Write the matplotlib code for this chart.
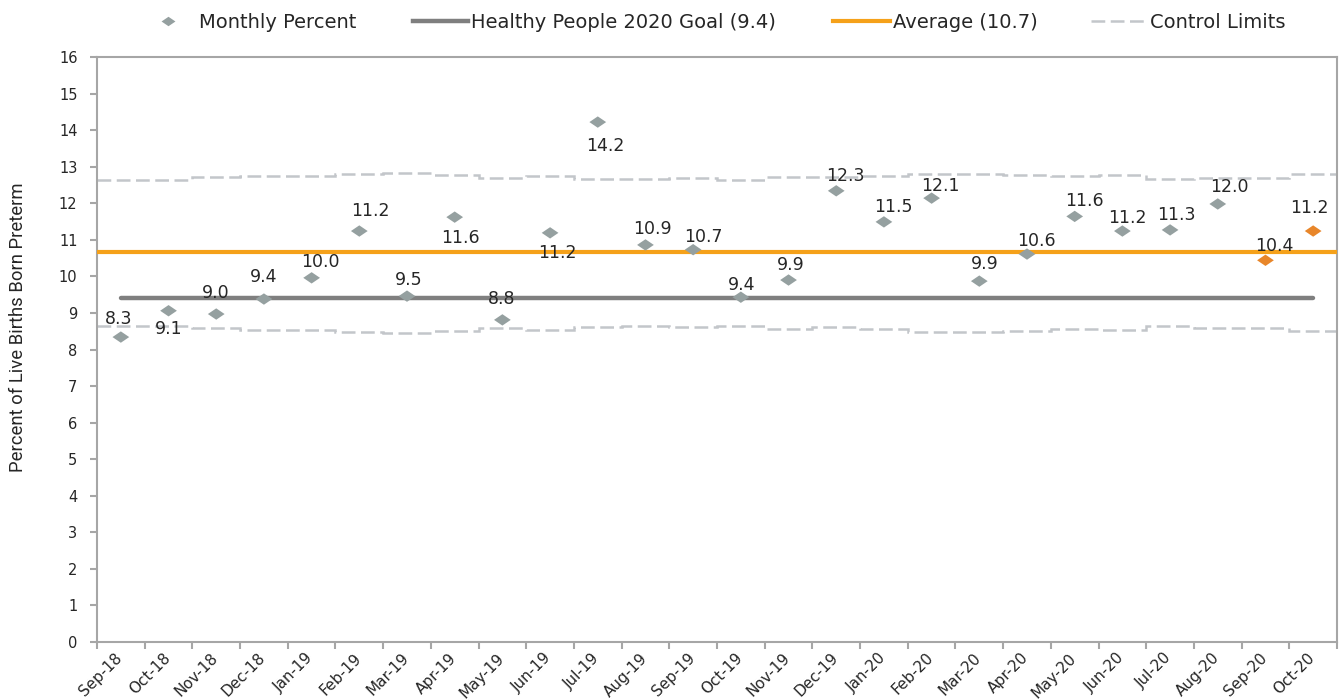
import matplotlib
matplotlib.use("Agg")
import matplotlib.pyplot as plt
import numpy as np
from matplotlib.path import Path
from matplotlib.lines import Line2D
from matplotlib.transforms import ScaledTranslation

plt.rcParams['font.family'] = ['DejaVu Sans']

months = ["Sep-18", "Oct-18", "Nov-18", "Dec-18", "Jan-19", "Feb-19", "Mar-19",
          "Apr-19", "May-19", "Jun-19", "Jul-19", "Aug-19", "Sep-19", "Oct-19",
          "Nov-19", "Dec-19", "Jan-20", "Feb-20", "Mar-20", "Apr-20", "May-20",
          "Jun-20", "Jul-20", "Aug-20", "Sep-20", "Oct-20"]
monthly_percent = [8.34, 9.06, 8.97, 9.38, 9.96, 11.24, 9.46, 11.62, 8.81, 11.19,
                   14.22, 10.86, 10.73, 9.43, 9.90, 12.34, 11.49, 12.14, 9.87,
                   10.61, 11.64, 11.24, 11.27, 11.98, 10.44, 11.24]
upper_limit = [12.64, 12.64, 12.71, 12.75, 12.75, 12.81, 12.82, 12.77, 12.69, 12.74,
               12.67, 12.65, 12.68, 12.64, 12.72, 12.72, 12.74, 12.81, 12.81, 12.78,
               12.74, 12.76, 12.66, 12.70, 12.69, 12.79]
lower_limit = [8.65, 8.65, 8.58, 8.53, 8.53, 8.47, 8.46, 8.51, 8.60, 8.54,
               8.62, 8.64, 8.61, 8.65, 8.57, 8.61, 8.55, 8.47, 8.48, 8.51,
               8.55, 8.53, 8.64, 8.60, 8.59, 8.50]
goal = 9.4
average = 10.66
legend_labels = ["Monthly Percent", "Healthy People 2020 Goal (9.4)",
                 "Average (10.7)", "Control Limits"]
highlight_months = ["Sep-20", "Oct-20"]

# label placement (pixel offsets of label centre from its point; + = right / up)
label_dx = [-2, 0, -1, 0, 9, 11, 2, 6, -1, 7, 8, 7, 10, 1, 2, 9, 9, 9, 5, 9,
            10, 5, 6, 12, 9, -4]
label_dy = [19, -17, 22, 23, 17, 21, 17, -20, 22, -19, -23, 17, 14, 14, 16, 16,
            16, 13, 18, 14, 17, 14, 16, 18, 16, 24]

GRAY_PT = "#95a0a0"
ORANGE_PT = "#e8862a"
GOAL_C = "#7f7f7f"
AVG_C = "#f5a11a"
CL_C = "#c3c6ca"
AX_C = "#a6a6a6"
TXT = "#262626"
CL_DASH = (0, (5.5, 2.2))

diamond = Path([(-1, 0), (0, 0.68), (1, 0), (0, -0.68), (-1, 0)],
               [Path.MOVETO, Path.LINETO, Path.LINETO, Path.LINETO, Path.CLOSEPOLY])

W, H = 1343, 700
fig = plt.figure(figsize=(W / 100, H / 100), dpi=100)
ax = fig.add_axes([97 / W, 1 - 642 / H, 1240 / W, 585 / H])

n = len(months)
x = np.arange(n)
edges = np.arange(n + 1) - 0.5

ax.stairs(upper_limit, edges, color=CL_C, lw=1.8, ls=CL_DASH, baseline=None, zorder=2)
ax.stairs(lower_limit, edges, color=CL_C, lw=1.8, ls=CL_DASH, baseline=None, zorder=2)
ax.plot([x[0], x[-1]], [goal, goal], color=GOAL_C, lw=3.2, solid_capstyle='round', zorder=3)
ax.axhline(average, color=AVG_C, lw=3, zorder=3)

colors = [ORANGE_PT if m in highlight_months else GRAY_PT for m in months]
ax.scatter(x, monthly_percent, marker=diamond, s=145, c=colors, linewidths=0, zorder=4)

fs_lab = 12.5
cap_half = 0.729 * fs_lab * 100 / 72 / 2
for xi, v, dx, dy in zip(x, monthly_percent, label_dx, label_dy):
    ax.annotate(f"{v:.1f}", (xi, v), xytext=(dx, dy - cap_half), textcoords='offset pixels',
                ha='center', va='baseline', fontsize=fs_lab, color=TXT, zorder=5)

ax.set_xlim(edges[0], edges[-1])
ax.set_ylim(0, 16)
ax.set_yticks(range(0, 17))
ax.set_xticks(x)
ax.set_xticklabels(months, rotation=45, ha='right', va='top', rotation_mode='anchor')
ax.set_xticks(edges, minor=True)
ax.tick_params(axis='x', which='major', length=0, pad=6, labelsize=11, labelcolor=TXT)
ax.tick_params(axis='x', which='minor', length=5, width=1.5, color=AX_C)
ax.tick_params(axis='y', length=5, width=1.5, color=AX_C, labelsize=10.5, labelcolor=TXT, pad=9)
shift = ScaledTranslation(-6 / 100, 0, fig.dpi_scale_trans)
for lbl in ax.get_xticklabels():
    lbl.set_transform(lbl.get_transform() + shift)
for s in ax.spines.values():
    s.set_color(AX_C)
    s.set_linewidth(1.5)

ax.set_ylabel("Percent of Live Births Born Preterm", fontsize=13.3, color=TXT,
              family=['Roboto', 'DejaVu Sans'])
ax.yaxis.label.set_va('center')
ax.yaxis.set_label_coords((18 - 97) / 1240, (642 - 327) / 585)

handles = [
    Line2D([], [], marker=diamond, color=GRAY_PT, ls='none', markersize=10, markeredgewidth=0),
    Line2D([], [], color=GOAL_C, lw=3.2),
    Line2D([], [], color=AVG_C, lw=3),
    Line2D([], [], color=CL_C, lw=1.8, ls=CL_DASH),
]
leg_fs = 14
fs_px = leg_fs * 100 / 72
handle_start = [140, 413, 833, 1091]
handle_len = [56, 55, 57, 56]
leg_y = 1 - 22 / H
for h, lab, x0, hl in zip(handles, legend_labels, handle_start, handle_len):
    lg = fig.legend([h], [lab], loc='center left', bbox_to_anchor=(x0 / W, leg_y),
                    frameon=False, fontsize=leg_fs, handlelength=hl / fs_px,
                    handletextpad=3 / fs_px, borderpad=0, borderaxespad=0)
    for t in lg.get_texts():
        t.set_color(TXT)

fig.savefig("out.png", dpi=100)
